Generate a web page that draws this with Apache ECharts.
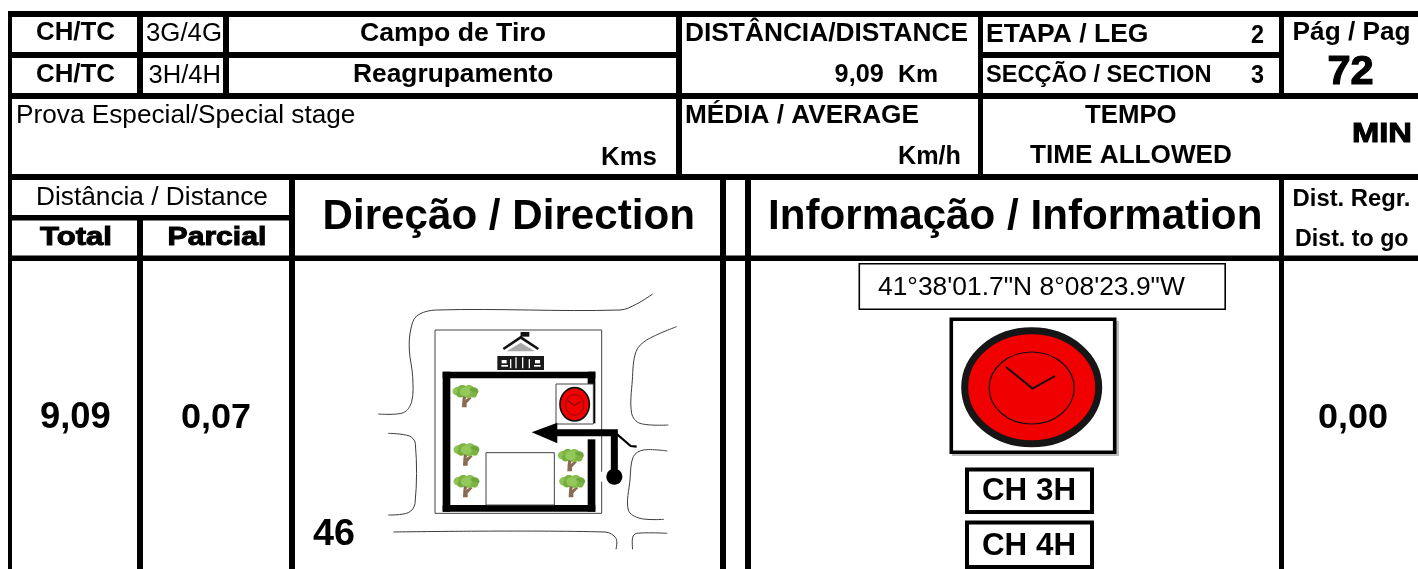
<!DOCTYPE html>
<html><head><meta charset="utf-8">
<style>html,body{margin:0;padding:0;background:#fff}#c{width:1418px;height:569px}</style>
<script src="https://cdn.jsdelivr.net/npm/echarts@6/dist/echarts.min.js"></script>
</head><body><div id="c"></div>
<script>
const controlLabel = 'CH/TC';
const controlCodes = ['3G/4G', '3H/4H'];
const controlNames = ['Campo de Tiro', 'Reagrupamento'];
const distanceHead = ['DISTÂNCIA/DISTANCE', '9,09', 'Km'];
const legSection = ['ETAPA / LEG', '2', 'SECÇÃO / SECTION', '3'];
const pageInfo = ['Pág / Pag', '72'];
const stageInfo = ['Prova Especial/Special stage', 'Kms'];
const averageInfo = ['MÉDIA / AVERAGE', 'Km/h'];
const timeInfo = ['TEMPO', 'TIME ALLOWED', 'MIN'];
const columnHeads = ['Distância / Distance', 'Total', 'Parcial', 'Direção / Direction', 'Informação / Information', 'Dist. Regr.', 'Dist. to go'];
const rowValues = ['9,09', '0,07', '0,00'];
const junctionNumber = '46';
const coordinates = '41°38\'01.7"N 8°08\'23.9"W';
const controlBoxes = ['CH 3H', 'CH 4H'];

const FONT = '"Liberation Sans", Arial, sans-serif';
const ctx = document.createElement('canvas').getContext('2d');
const els = [];
const rect = (x0, y0, x1, y1, fill) => els.push({type:'rect', shape:{x:x0,y:y0,width:x1-x0,height:y1-y0}, style:{fill:fill||'#000'}, silent:true});
const frame = (x0,y0,x1,y1,w,stroke) => els.push({type:'rect', shape:{x:x0+w/2,y:y0+w/2,width:x1-x0-w,height:y1-y0-w}, style:{fill:'#fff',stroke:stroke||'#000',lineWidth:w}, silent:true});
// text fitted to a horizontal extent: the font size follows the width unless one is given
function txt(s, x0, x1, cy, fs, weight, heavy) {
  const w = weight||'normal';
  ctx.font = w+' 100px '+FONT;
  const nat = ctx.measureText(s).width/100;
  const size = fs || (x1-x0)/nat;
  const font = w+' '+size.toFixed(2)+'px '+FONT;
  els.push({type:'text', x:x0, y:cy, scaleX:(x1-x0)/(nat*size), scaleY:1, silent:true,
    style:{text:s, font:font, fill:'#000', align:'left', verticalAlign:'middle',
      stroke: heavy ? '#000' : null, lineWidth: heavy||0}});
}
const Z3 = (x,y) => [370+x/3, 280+y/3];
const road = (pts) => els.push({type:'polyline', silent:true, shape:{points:pts.map(p=>Z3(p[0],p[1])), smooth:0.35}, style:{fill:null, stroke:'#3c3c3c', lineWidth:1}});
const line = (pts,w,c) => els.push({type:'polyline', silent:true, shape:{points:pts}, style:{fill:null, stroke:c||'#000', lineWidth:w, lineJoin:'miter'}});
const ell = (cx,cy,rx,ry,fill,stroke,w) => els.push({type:'ellipse', silent:true, shape:{cx,cy,rx,ry}, style:{fill:fill||'none',stroke:stroke||null,lineWidth:w||0}});
const poly = (pts,fill) => els.push({type:'polygon', silent:true, shape:{points:pts}, style:{fill}});

// ---- table rules ----
rect(0,0,1418,569,'#fff');
[[8,1418,11,17],[12,676,52,58],[983,1279,52,58],[8,1418,93,99],[8,1418,174,180],[8,289,215,220.5],[8,1418,255.5,261]]
  .forEach(b=>rect(b[0],b[2],b[1],b[3]));
[[8,12,11,569],[137,143,11,93],[137,143,215,569],[223,229,11,93],[289,295,174,569],[676,682,11,174],[720,726,174,569],[745,751,174,569],[978,983,11,174],[1279,1284,11,93],[1279,1284,174,569]]
  .forEach(b=>rect(b[0],b[2],b[1],b[3]));

// ---- header text ----
txt(controlLabel,36,115,33,null,'bold');
txt(controlLabel,36,115,75,null,'bold');
txt(controlCodes[0],146,222,33.5);
txt(controlCodes[1],148.5,221,75.5);
txt(controlNames[0],360,546,33.5,null,'bold');
txt(controlNames[1],353,553.5,75,null,'bold');
txt(stageInfo[0],16,355.5,116);
txt(stageInfo[1],601,657,158,null,'bold');
txt(distanceHead[0],685,968,33.5,null,'bold');
txt(distanceHead[1],834.6,883.7,75,null,'bold');
txt(distanceHead[2],898,938,75,null,'bold');
txt(legSection[0],986,1148.5,35,null,'bold');
txt(legSection[1],1251,1264,36,25,'bold');
txt(legSection[2],986,1211.5,75,null,'bold');
txt(legSection[3],1251,1264,76,25,'bold');
txt(pageInfo[0],1292.6,1410.5,33,null,'bold');
txt(pageInfo[1],1327.5,1373.7,73,40,'bold',1.2);
txt(averageInfo[0],685,919,115.5,null,'bold');
txt(averageInfo[1],898,961,157,null,'bold');
txt(timeInfo[0],1085,1176.7,115.5,null,'bold');
txt(timeInfo[1],1030,1232,155.5,null,'bold');
txt(timeInfo[2],1352,1412,134.5,27,'bold',1);
// ---- column heads ----
txt(columnHeads[0],36,268,198);
txt(columnHeads[1],40,112,237.5,26,'bold',1);
txt(columnHeads[2],167.6,266.3,237.5,26,'bold',1);
txt(columnHeads[3],322.5,695,217,null,'bold');
txt(columnHeads[4],768,1262.5,217,null,'bold');
txt(columnHeads[5],1292.6,1410.5,199.5,null,'bold');
txt(columnHeads[6],1295,1408.5,240,null,'bold');
// ---- values ----
txt(rowValues[0],40,110.7,418,null,'bold');
txt(rowValues[1],181,251,418,null,'bold');
txt(rowValues[2],1318,1388,418,null,'bold');
txt(junctionNumber,313,355,535,null,'bold');

// ---- direction sketch ----
road([[848,42],[800,72],[750,90],[200,90],[140,108],[122,150],[118,210],[128,290],[125,365],[100,398],[25,402]]);
road([[920,140],[830,180],[798,215],[787,300],[785,400],[810,430],[895,435]]);
road([[892,513],[820,510],[790,530],[780,600],[775,690],[810,715],[882,718]]);
road([[55,460],[118,468],[136,490],[135,670],[115,698],[55,705]]);
road([[70,756],[705,756],[738,775],[738,808]]);
road([[892,760],[800,760],[788,772],[788,808]]);
{
  const a = Z3(195,150), b = Z3(695,700);
  els.push({type:'rect',silent:true,shape:{x:a[0],y:a[1],width:b[0]-a[0],height:b[1]-a[1]},style:{fill:'#fff',stroke:'#444',lineWidth:1}});
  // wall
  const w0 = Z3(218,275), w1 = Z3(676,695), i0 = Z3(241,295), i1 = Z3(653,675);
  rect(w0[0],w0[1],i0[0],w1[1]);
  rect(w0[0],w0[1],w1[0],i0[1]);
  rect(w0[0],i1[1],w1[0],w1[1]);
  rect(i1[0],w0[1],w1[0],Z3(0,430)[1]);
  rect(i1[0],Z3(0,478)[1],w1[0],w1[1]);
  // gap in the fine outline beside the start dot
  const g0 = Z3(690,575), g1 = Z3(700,605);
  rect(g0[0],g0[1],g1[0],g1[1],'#fff');
  // inner block
  const s0 = Z3(348,518), s1 = Z3(553,675);
  els.push({type:'rect',silent:true,shape:{x:s0[0],y:s0[1],width:s1[0]-s0[0],height:s1[1]-s0[1]},style:{fill:'#fff',stroke:'#444',lineWidth:1}});
  // small clock
  const c0 = Z3(558,312), c1 = Z3(670,432);
  els.push({type:'rect',silent:true,shape:{x:c0[0],y:c0[1],width:c1[0]-c0[0],height:c1[1]-c0[1]},style:{fill:'#fff',stroke:'#444',lineWidth:1}});
  const cc = Z3(614,373);
  ell(cc[0],cc[1],14.7,16.7,'#f00000','#111',1.6);
  ell(cc[0],cc[1]+0.5,9,10.3,null,'#222',0.5);
  line([Z3(592,360),Z3(613,377),Z3(632,364)],0.7,'#111');
  // route arrow
  poly([Z3(485,457),Z3(562,428),Z3(562,490)],'#000');
  line([Z3(555,458),Z3(733,458),Z3(733,590)],7);
  line([Z3(738,460),Z3(782,498),Z3(800,500)],2.2);
  const d = Z3(733,590);
  ell(d[0],d[1],8,8,'#000');
  // trees
  const tree = (zx,zy) => {
    const t = (dx,dy)=>Z3(zx+dx,zy+dy);
    poly([t(-8,8),t(4,8),t(-1,22),t(12,12),t(18,16),t(3,32),t(3,44),t(-11,44),t(-10,24)],'#8a6a50');
    [[-24,-4,14,'#8fc454'],[-10,-10,14,'#7cb342'],[10,-10,14,'#8cc152'],[24,-4,13,'#6fa63a'],[-16,4,11,'#76ad3e'],[8,4,13,'#86bc4c'],[24,6,9,'#7cb342'],[-2,-3,14,'#92c95a']]
      .forEach(c=>{const p=t(c[0],c[1]); ell(p[0],p[1],c[2]/3*1.1,c[2]/3*0.95,c[3]);});
  };
  [[287,338],[290,513],[290,608],[603,530],[607,608]].forEach(p=>tree(p[0],p[1]));
  // monument
  const q0 = Z3(382,228), q1 = Z3(522,270);
  rect(q0[0],q0[1],q1[0],q1[1],'#1a1a1a');
  [[395,240,410,250],[495,240,510,250],[420,238,424,265],[436,232,440,265],[456,232,460,265],[476,238,480,265],[492,255,512,260],[394,255,414,260]]
    .forEach(r=>{const a=Z3(r[0],r[1]),b=Z3(r[2],r[3]); rect(a[0],a[1],b[0],b[1],'#fff');});
  poly([Z3(410,214),Z3(452,188),Z3(495,214)],'#a8a8a8');
  line([Z3(400,207),Z3(452,172),Z3(505,207)],2.6,'#111');
  line([Z3(454,172),Z3(454,158)],1,'#111');
  const f0 = Z3(452,156), f1 = Z3(478,170);
  rect(f0[0],f0[1],f1[0],f1[1],'#111');
}

// ---- information panel ----
frame(858.5,263,1226,310,1.6);
txt(coordinates,878,1185,288);
rect(952,321,1119,456,'#bcbcbc');
frame(949.5,317.5,1116.5,454,3.6);
ell(1031.7,387.3,67,56.5,'#f00000','#161616',7);
ell(1031.7,388,42.5,36,null,'#111',1.2);
line([[1006,367],[1032.5,388.5],[1055,376]],2,'#111');
frame(965,467.5,1094,514,4);
txt(controlBoxes[0],982,1076,491.5,null,'bold');
frame(965,520.5,1094,569,4);
txt(controlBoxes[1],982,1076,546.5,null,'bold');

const chart = echarts.init(document.getElementById('c'));
chart.setOption({backgroundColor:'#fff', animation:false, graphic:{elements:els}});
</script></body></html>
